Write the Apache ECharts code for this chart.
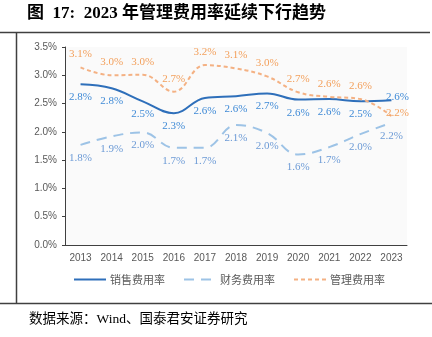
<!DOCTYPE html>
<html><head><meta charset="utf-8">
<script src="https://cdn.jsdelivr.net/npm/echarts@6/dist/echarts.min.js"></script>
<style>html,body{margin:0;padding:0;background:#fff}#c{width:432px;height:337px}</style>
</head><body><div id="c"></div>
<script>
const years = ['2013','2014','2015','2016','2017','2018','2019','2020','2021','2022','2023'];
const salesRate = [2.84, 2.77, 2.54, 2.33, 2.60, 2.63, 2.68, 2.57, 2.58, 2.54, 2.56];
const salesLabels = ['2.8%','2.8%','2.5%','2.3%','2.6%','2.6%','2.7%','2.6%','2.6%','2.5%','2.6%'];
const financeRate = [1.77, 1.92, 1.99, 1.72, 1.72, 2.12, 1.98, 1.60, 1.73, 1.96, 2.16];
const financeLabels = ['1.8%','1.9%','2.0%','1.7%','1.7%','2.1%','2.0%','1.6%','1.7%','2.0%','2.2%'];
const adminRate = [3.14, 3.00, 3.01, 2.71, 3.18, 3.12, 2.98, 2.70, 2.62, 2.58, 2.28];
const adminLabels = ['3.1%','3.0%','3.0%','2.7%','3.2%','3.1%','3.0%','2.7%','2.6%','2.6%','2.2%'];
const yTicks = [0, 0.5, 1.0, 1.5, 2.0, 2.5, 3.0, 3.5];

const serif = '"Liberation Serif","Times New Roman",serif';
const sans = '"Liberation Sans",Arial,sans-serif';

function mk(vals, labels, last) {
  return vals.map((v, i) => {
    const lab = { formatter: labels[i] };
    if (i === vals.length - 1 && last) Object.assign(lab, last);
    return { value: v, label: lab };
  });
}

const chart = echarts.init(document.getElementById('c'));
chart.setOption({
  animation: false,
  grid: { left: 65, right: 25, top: 47, bottom: 92, show: true, backgroundColor: '#fafafa', borderWidth: 0 },
  xAxis: {
    type: 'category', data: years, boundaryGap: true,
    axisLine: { lineStyle: { color: '#404040', width: 1 } },
    axisTick: { inside: true, length: 4, lineStyle: { color: '#404040' } },
    axisLabel: { color: '#595959', fontFamily: sans, fontSize: 10, margin: 8 }
  },
  yAxis: {
    type: 'value', min: 0, max: 3.5, interval: 0.5,
    axisLine: { show: true, lineStyle: { color: '#404040', width: 1 } },
    axisTick: { show: true, length: 3, lineStyle: { color: '#404040' } },
    splitLine: { show: false },
    axisLabel: { color: '#595959', fontFamily: sans, fontSize: 10, margin: 8,
      formatter: v => v.toFixed(1) + '%' }
  },
  legend: {
    bottom: 47, left: 68, itemWidth: 32, itemHeight: 10, itemGap: 18,
    itemStyle: { opacity: 0 },
    textStyle: { color: '#595959', fontSize: 11, padding: [0, 0, 0, -1], fontFamily: '"Noto Sans CJK SC",sans-serif' },
    data: ['销售费用率', '财务费用率', '管理费用率']
  },
  series: [
    {
      name: '销售费用率', type: 'line', smooth: 0.4, symbol: 'circle', symbolSize: 1, showSymbol: true,
      lineStyle: { color: '#2e6fba', width: 2 }, itemStyle: { color: 'rgba(0,0,0,0)' },
      label: { show: true, position: 'bottom', distance: 7, color: '#3f8ad6', fontFamily: serif, fontSize: 11 },
      data: mk(salesRate, salesLabels, { position: 'top', distance: 0, offset: [6, 3] }),
      z: 3
    },
    {
      name: '财务费用率', type: 'line', smooth: 0.4, symbol: 'circle', symbolSize: 1, showSymbol: true,
      lineStyle: { color: '#9dc3e6', width: 2, type: [10, 7] }, itemStyle: { color: 'rgba(0,0,0,0)' },
      label: { show: true, position: 'bottom', distance: 7, color: '#6d9bd6', fontFamily: serif, fontSize: 11 },
      data: mk(financeRate, financeLabels, null)
    },
    {
      name: '管理费用率', type: 'line', smooth: 0.4, symbol: 'circle', symbolSize: 1, showSymbol: true,
      lineStyle: { color: '#f4b183', width: 2, type: [4, 3] }, itemStyle: { color: 'rgba(0,0,0,0)' },
      label: { show: true, position: 'top', distance: 7, color: '#f3a05c', fontFamily: serif, fontSize: 11 },
      data: mk(adminRate, adminLabels, { position: 'top', distance: 0, offset: [6, 3] })
    }
  ],
  graphic: [
    { type: 'text', left: 27, top: 5, style: { text: '图  17:  2023 年管理费用率延续下行趋势', fill: '#000',
      font: 'bold 17px "Liberation Serif","Noto Sans CJK SC",serif' } },
    { type: 'line', shape: { x1: 0, y1: 32.5, x2: 430, y2: 32.5 }, style: { stroke: '#404040', lineWidth: 1.5 } },
    { type: 'line', shape: { x1: 16.5, y1: 32, x2: 16.5, y2: 303 }, style: { stroke: '#404040', lineWidth: 1.5 } },
    { type: 'line', shape: { x1: 0, y1: 303.5, x2: 432, y2: 303.5 }, style: { stroke: '#404040', lineWidth: 1.5 } },
    { type: 'text', left: 29, top: 313, style: { text: '数据来源：Wind、国泰君安证券研究', fill: '#000',
      font: '13.5px "Liberation Serif","Noto Sans CJK SC",serif' } }
  ]
});
</script></body></html>
